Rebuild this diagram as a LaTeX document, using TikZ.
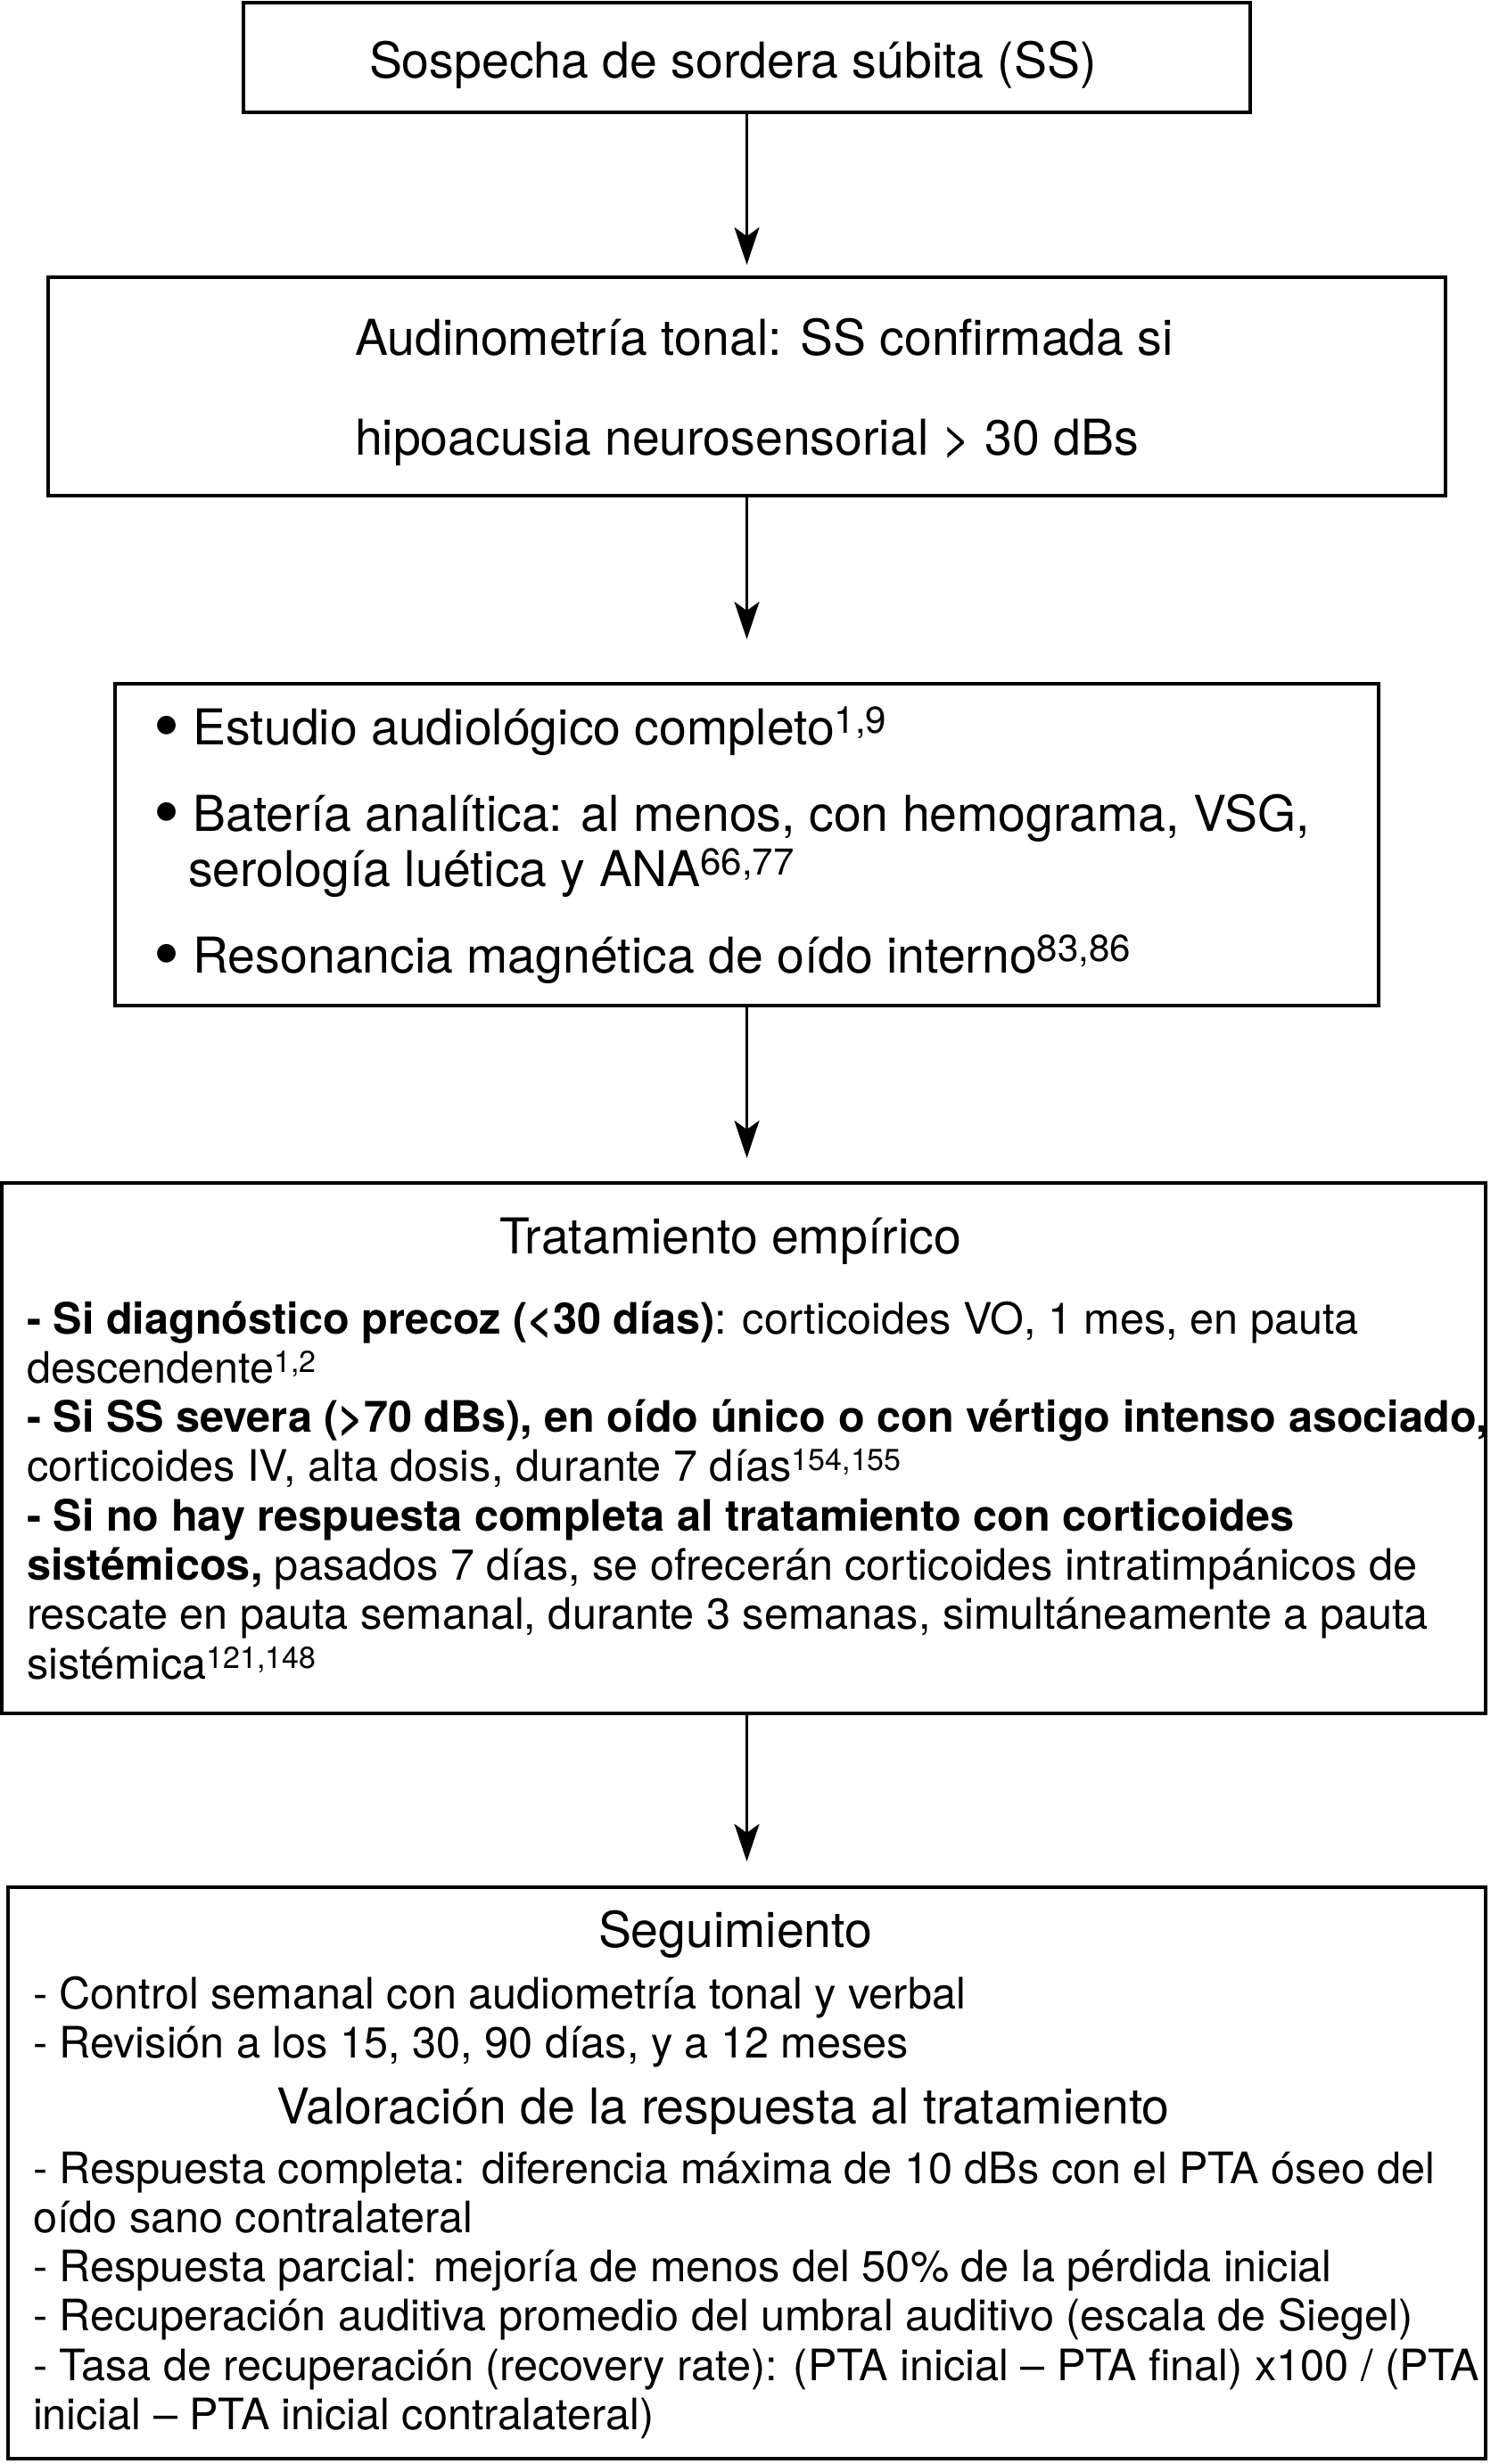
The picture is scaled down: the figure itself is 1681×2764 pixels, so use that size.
\documentclass[tikz,border=0pt]{standalone}
\usepackage{fontspec}
\setmainfont{TeX Gyre Heros}
\usetikzlibrary{arrows.meta}
\newcommand{\supH}[1]{\raisebox{6.5pt}{\fontsize{21pt}{22pt}\selectfont #1}}
\newcommand{\supB}[1]{\raisebox{6pt}{\fontsize{17pt}{18pt}\selectfont #1}}
\newcommand{\bul}{\raisebox{-0.14em}{\scalebox{1.5}{\textbullet}}}
\begin{document}
\begin{tikzpicture}[x=0.5pt,y=-0.5pt,
  box/.style={draw=black, line width=2pt, inner sep=0pt, outer sep=0pt, fill=none},
  hd/.style={anchor=base west, inner sep=0pt, outer sep=0pt, font=\fontsize{27.7pt}{33pt}\selectfont},
  bd/.style={anchor=base west, inner sep=0pt, outer sep=0pt, font=\fontsize{24.3pt}{29pt}\selectfont},
  conn/.style={draw=black, line width=1.5pt, -{Stealth[length=21pt, width=14pt, inset=5pt]}}]
\useasboundingbox (0,0) rectangle (1681,2764);
\fill[white] (0,0) rectangle (1681,2764);

% boxes
\node[box, minimum width=564.5pt, minimum height=61.5pt] (b1) at (837.5,64.5) {};
\node[box, minimum width=783.5pt, minimum height=122.5pt] (b2) at (837.5,433.5) {};
\node[box, minimum width=708.5pt, minimum height=180.25pt] (b3) at (837.5,947.25) {};
\node[box, minimum width=832pt, minimum height=297.25pt] (b4) at (834,1624.25) {};
\node[box, minimum width=828.5pt, minimum height=320.5pt] (b5) at (837.5,2437.5) {};

% connectors
\draw[conn, shorten >=7pt] (b1.south) -- (b2.north);
\draw[conn, shorten >=25pt] (b2.south) -- (b3.north);
\draw[conn, shorten >=14pt] (b3.south) -- (b3.south |- b4.north);
\draw[conn, shorten >=14.5pt] (b4.south -| b5.north) -- (b5.north);

% box 1
\node[hd] (t1) at (414,87) {Sospecha de sordera súbita (SS)};

% box 2
\node[hd] (t2a) at (398,398) {Audinometría tonal: SS confirmada si};
\node[hd] (t2b) at (398,510) {hipoacusia neurosensorial > 30 dBs};

% box 3
\node[hd] (t3a) at (172,835) {\bul\ Estudio audiológico completo\supH{1,9}};
\node[hd] (t3b) at (172,932) {\bul\ Batería analítica: al menos, con hemograma, VSG,};
\node[hd] (t3c) at (211,994) {serología luética y ANA\supH{66,77}};
\node[hd] (t3d) at (172,1091) {\bul\ Resonancia magnética de oído interno\supH{83,86}};

% box 4
\node[hd] (t4h) at (560,1406) {Tratamiento empírico};
\node[bd] (t4a) at (30,1496) {\textbf{- Si diagnóstico precoz (<30 días)}: corticoides VO, 1 mes, en pauta};
\node[bd] (t4b) at (30,1551.3) {descendente\supB{1,2}};
\node[bd] (t4c) at (30,1606.6) {\textbf{- Si SS severa (>70 dBs), en oído único o con vértigo intenso asociado,}};
\node[bd] (t4d) at (30,1661.9) {corticoides IV, alta dosis, durante 7 días\supB{154,155}};
\node[bd] (t4e) at (30,1717.2) {\textbf{- Si no hay respuesta completa al tratamiento con corticoides}};
\node[bd] (t4f) at (30,1772.5) {\textbf{sistémicos,} pasados 7 días, se ofrecerán corticoides intratimpánicos de};
\node[bd] (t4g) at (30,1827.8) {rescate en pauta semanal, durante 3 semanas, simultáneamente a pauta};
\node[bd] (t4i) at (30,1883.1) {sistémica\supB{121,148}};

% box 5
\node[hd] (t5h) at (671,2184) {Seguimiento};
\node[bd] (t5a) at (37,2253) {- Control semanal con audiometría tonal y verbal};
\node[bd] (t5b) at (37,2308) {- Revisión a los 15, 30, 90 días, y a 12 meses};
\node[hd] (t5v) at (310,2382) {Valoración de la respuesta al tratamiento};
\node[bd] (t5c) at (37,2449) {- Respuesta completa: diferencia máxima de 10 dBs con el PTA óseo del};
\node[bd] (t5d) at (37,2504.3) {oído sano contralateral};
\node[bd] (t5e) at (37,2559.6) {- Respuesta parcial: mejoría de menos del 50\% de la pérdida inicial};
\node[bd] (t5f) at (37,2614.9) {- Recuperación auditiva promedio del umbral auditivo (escala de Siegel)};
\node[bd] (t5g) at (37,2670.2) {- Tasa de recuperación (recovery rate): (PTA inicial – PTA final) x100 / (PTA};
\node[bd] (t5i) at (37,2725.5) {inicial – PTA inicial contralateral)};
\end{tikzpicture}
\end{document}
